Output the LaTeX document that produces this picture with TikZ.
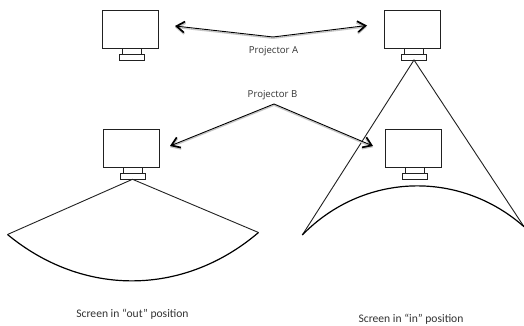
\documentclass[tikz,border=0pt]{standalone}
\usepackage{fontspec}
\setmainfont{Carlito}
\newfontfamily\labelfont{Open Sans}
\usetikzlibrary{arrows.meta}
\definecolor{ink}{gray}{0.13}
\tikzset{
  x=1pt,y=-1pt,
  part/.style={draw=ink,line width=0.9pt,fill=white},
  beam/.style={draw=ink,line width=0.9pt},
  screenarc/.style={draw=black,line width=1.2pt},
  pointer/.style={draw=black,line width=0.9pt,-{Straight Barb[length=8pt,width=11pt,line width=1.7pt]}},
  pshadow/.style={draw=black!22,line width=1.3pt,-{Straight Barb[length=8pt,width=11pt,line width=2.2pt]}},
  caption/.style={font=\fontsize{11.6}{13}\selectfont,text=black!80,inner sep=0pt},
  toplabel/.style={font=\labelfont\fontsize{9.6}{11}\selectfont,text=black!80,inner sep=0pt},
  pic1/.pic={
    \draw[part] (0,0) rectangle (55.5,38);
    \draw[part] (20,38) rectangle (38.5,44);
    \draw[part] (16.5,44) rectangle (42,49.5);
  }
}
\begin{document}
\begin{tikzpicture}
\useasboundingbox (0,0) rectangle (524,326);
\fill[white] (0,0) rectangle (524,326);
\pic (pa) at (102.5,10.5) {pic1};
\pic (pb) at (384.5,10.5) {pic1};
\pic (pc) at (103.5,129.7) {pic1};
\pic (pd) at (385.7,129.5) {pic1};
% beams
\coordinate (apexL) at (132.5,179.3);
\coordinate (apexR) at (414,60);
\coordinate (sLa) at (7.5,234.5);
\coordinate (sLb) at (258.5,232.5);
\coordinate (sRa) at (302.3,235);
\coordinate (sRb) at (524,226.7);
\draw[beam] (sLa) -- (apexL) -- (sLb);
\draw[beam] (sRa) -- (apexR) -- (sRb);
\draw[screenarc] (sLa) to[bend right=40] (sLb);
\draw[screenarc] (sRa) to[bend left=43.6] (sRb);
% labels
\node[toplabel] (labA) at (273.5,51.5) {Projector A};
\node[toplabel] (labB) at (272.5,95) {Projector B};
\node[caption] (capL) at (132.5,314) {Screen in “out” position};
\node[caption] (capR) at (411,319.5) {Screen in “in” position};
% pointers
\coordinate (jA) at (273,37);
\coordinate (jB) at (274,104);
\coordinate (tA1) at (175,26);
\coordinate (tA2) at (367,25.5);
\coordinate (tB1) at (170,146);
\coordinate (tB2) at (373,146);
\foreach \j/\t in {jA/tA1,jA/tA2,jB/tB1,jB/tB2}{
  \draw[pshadow] ([yshift=-1.3pt]\j) -- ([yshift=-1.3pt]\t);
  \draw[pointer] (\j) -- (\t);
}
\end{tikzpicture}
\end{document}
